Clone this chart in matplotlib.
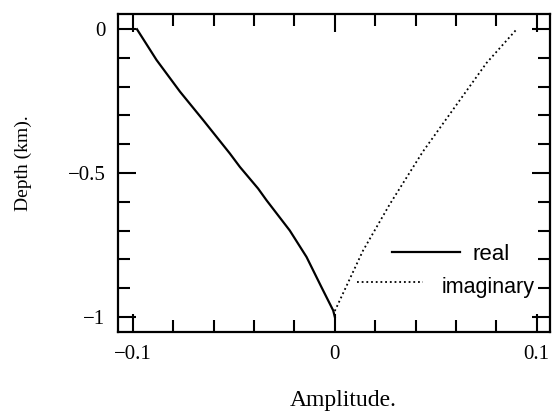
"""
Depth profile of the real and imaginary parts of the amplitude.
"""

import matplotlib
matplotlib.use("Agg")
import matplotlib.pyplot as plt
from matplotlib.ticker import MultipleLocator, FixedLocator

# real part, amplitude vs depth (km)
real_amp = [-0.098, -0.0883, -0.0767, -0.0652, -0.052, -0.047, -0.038,
            -0.0338, -0.0223, -0.014, -0.0066, -0.0008, 0.0]
real_depth = [0.0, -0.107, -0.217, -0.316, -0.432, -0.479, -0.554,
              -0.595, -0.700, -0.792, -0.897, -0.978, -1.0]

# imaginary part
imag_amp = [0.0, 0.0139, 0.0272, 0.0436, 0.0619, 0.0752, 0.0901]
imag_depth = [-0.98, -0.771, -0.609, -0.426, -0.247, -0.117, 0.0]

x_ticks = [-0.1, 0.0, 0.1]
x_labels = ["\u22120.1", "0", "0.1"]
y_ticks = [0.0, -0.5, -1.0]
y_labels = ["0", "\u22120.5", "\u22121"]

plt.rcParams["font.family"] = ["Liberation Serif", "DejaVu Serif"]

fig = plt.figure(figsize=(5.6, 4.19), dpi=100)
ax = fig.add_axes([0.2107, 0.2076, 0.7714, 0.759])

ax.plot(real_amp, real_depth, color="black", lw=1.6, solid_joinstyle="round")
ax.plot(imag_amp, imag_depth, color="black", lw=1.3, ls=(0, (1, 1.6)))

ax.set_xlim(-0.1074, 0.1066)
ax.set_ylim(-1.053, 0.053)

ax.xaxis.set_major_locator(FixedLocator(x_ticks))
ax.set_xticklabels(x_labels)
ax.xaxis.set_minor_locator(MultipleLocator(0.02))
ax.yaxis.set_major_locator(FixedLocator(y_ticks))
ax.set_yticklabels(y_labels)
ax.yaxis.set_minor_locator(MultipleLocator(0.1))

ax.tick_params(which="both", direction="in", top=True, right=True,
               width=1.5, labelsize=15, pad=9)
ax.tick_params(which="major", length=13)
ax.tick_params(which="minor", length=8.5)
for s in ax.spines.values():
    s.set_linewidth(1.6)

ax.set_xlabel("Amplitude.", fontsize=17)
ax.xaxis.set_label_coords(0.521, -0.182)
ax.set_ylabel("Depth (km).", fontsize=14)
ax.yaxis.set_label_coords(-0.199, 0.531)

# hand-placed key with centred labels
key_font = ["Liberation Sans", "DejaVu Sans"]
ax.plot([0.634, 0.792], [0.2516, 0.2516], transform=ax.transAxes,
        color="black", lw=1.6)
ax.text(0.863, 0.2264, "real", transform=ax.transAxes, ha="center",
        va="baseline", fontsize=16, family=key_font)
ax.plot([0.553, 0.706], [0.157, 0.157], transform=ax.transAxes,
        color="black", lw=1.3, ls=(0, (1, 1.6)))
ax.text(0.856, 0.1236, "imaginary", transform=ax.transAxes, ha="center",
        va="baseline", fontsize=15.5, family=key_font)

fig.savefig("out.png", dpi=100)
